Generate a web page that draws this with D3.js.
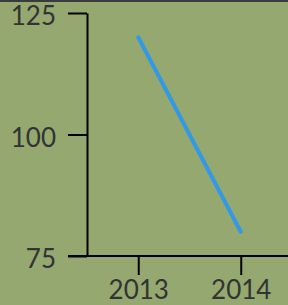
<!DOCTYPE html>
<html>
<head>
<meta charset="utf-8">
<script src="https://cdn.jsdelivr.net/npm/d3@7"></script>
<style>
  body { margin: 0; background: #94a870; }
  svg { display: block; }
</style>
</head>
<body>
<svg id="chart" width="288" height="305"></svg>
<script>
const years = ["2013", "2014"];
const values = [120, 80];
const yTicks = [75, 100, 125];

const svg = d3.select("#chart");
const width = 288, height = 305;

svg.append("rect").attr("width", width).attr("height", height).attr("fill", "#94a870");
svg.append("rect").attr("width", width).attr("height", 2).attr("fill", "#3a3a3a");

const x = d3.scalePoint().domain(years).range([87, 292]).padding(0.5);
const y = d3.scaleLinear().domain([75, 125]).range([256, 13]);

// y axis
const yAxis = svg.append("g")
  .attr("transform", "translate(87,0)")
  .call(d3.axisLeft(y).tickValues(yTicks).tickSize(19).tickSizeOuter(0).tickPadding(12));
yAxis.selectAll(".tick text").attr("dy", "0.45em");

// x axis
const xAxis = svg.append("g")
  .attr("transform", "translate(0,256)")
  .call(d3.axisBottom(x).tickSize(19).tickSizeOuter(0).tickPadding(6));
xAxis.select(".domain").attr("d", "M68,0H288");

svg.selectAll(".domain, .tick line").attr("stroke", "#000").attr("stroke-width", 2);
svg.selectAll(".tick text")
  .attr("fill", "#333")
  .attr("font-family", "Lato, sans-serif")
  .attr("font-size", 26);

const line = d3.line().x((d, i) => x(years[i])).y(d => y(d));
svg.append("path")
  .datum(values)
  .attr("d", line)
  .attr("fill", "none")
  .attr("stroke", "#3399e6")
  .attr("stroke-width", 4)
  .attr("stroke-linecap", "round");
</script>
</body>
</html>
